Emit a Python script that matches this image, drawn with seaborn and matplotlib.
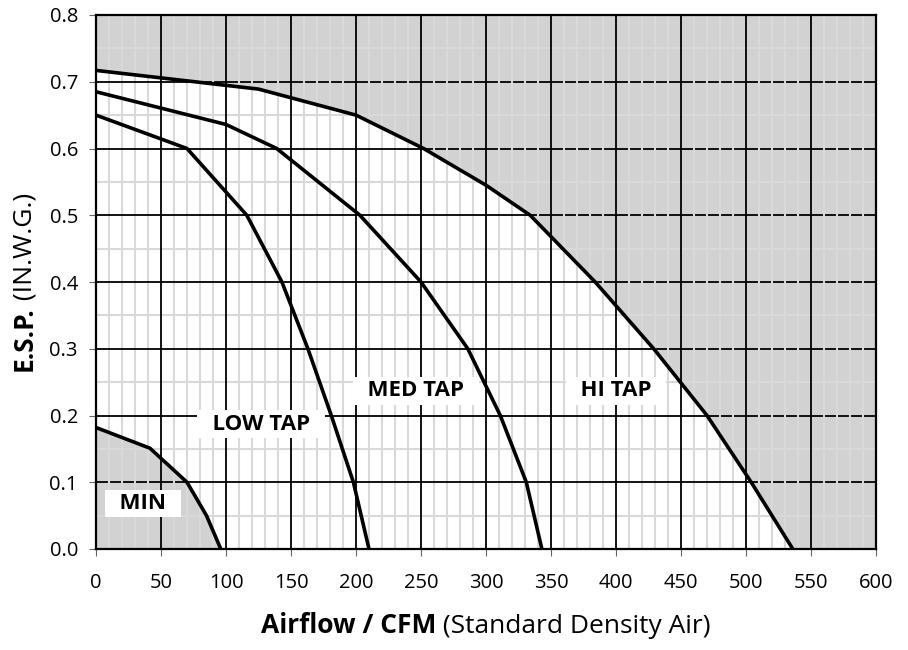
import numpy as np
import pandas as pd
import matplotlib
matplotlib.use('Agg')
import matplotlib.pyplot as plt
import seaborn as sns

# fan curves: airflow (CFM) vs external static pressure (in. w.g.)
min_cfm = [0, 41.5, 70, 85, 96]
min_esp = [0.182, 0.151, 0.10, 0.05, 0.0]
low_cfm = [0, 70, 116, 143, 163, 181, 198, 210]
low_esp = [0.65, 0.60, 0.50, 0.40, 0.30, 0.20, 0.10, 0.0]
med_cfm = [0, 100, 139, 203, 250, 286, 311, 331, 343]
med_esp = [0.685, 0.636, 0.60, 0.50, 0.40, 0.30, 0.20, 0.10, 0.0]
hi_cfm = [0, 125, 200, 252, 300, 334, 384, 429, 470, 504, 536]
hi_esp = [0.717, 0.689, 0.65, 0.60, 0.545, 0.50, 0.40, 0.30, 0.20, 0.10, 0.0]

curve_names = ['MIN', 'LOW TAP', 'MED TAP', 'HI TAP']
label_cfm = [36, 127, 246, 400]
label_esp = [0.068, 0.187, 0.237, 0.237]

x_ticks = list(range(0, 601, 50))
y_ticks = [0.0, 0.1, 0.2, 0.3, 0.4, 0.5, 0.6, 0.7, 0.8]
XMAX, YMAX = 600, 0.8

FILL = '#d2d2d2'
MINOR = '#d9d9d9'


def main():
    sns.set_style('white')
    plt.rcParams['font.family'] = ['Open Sans', 'DejaVu Sans']
    plt.rcParams['text.color'] = 'black'

    df = pd.concat([
        pd.DataFrame({'cfm': c, 'esp': e, 'curve': n})
        for c, e, n in zip([min_cfm, low_cfm, med_cfm, hi_cfm],
                           [min_esp, low_esp, med_esp, hi_esp], curve_names)
    ])

    fig = plt.figure(figsize=(9.08, 6.5), dpi=100)
    ax = fig.add_axes([96 / 908, 101 / 650, 780 / 908, 534 / 650])
    ax.set_xlim(0, XMAX)
    ax.set_ylim(0, YMAX)

    # shaded regions: above HI TAP and below MIN
    hi_fill = ax.fill_between(np.append(hi_cfm, XMAX), np.append(hi_esp, 0), YMAX,
                              color=FILL, lw=0, zorder=1)
    min_fill = ax.fill_between(min_cfm, 0, min_esp, color=FILL, lw=0, zorder=1)

    # grid
    minor_x = [v for v in range(0, XMAX + 1, 10) if v % 50]
    minor_y = [v / 100 for v in range(5, 80, 10)]
    ax.vlines(minor_x, 0, YMAX, color=MINOR, lw=1.5, zorder=1.2)
    ax.hlines(minor_y, 0, XMAX, color=MINOR, lw=1.5, zorder=1.2)
    ax.hlines(y_ticks[1:-1], 0, XMAX, color='black', lw=1.3, zorder=1.5)
    for poly in (hi_fill, min_fill):
        vl = ax.vlines(minor_x, 0, YMAX, color=MINOR, lw=1.5, zorder=1.7)
        vl.set_clip_path(poly.get_paths()[0], ax.transData)
    ax.vlines(x_ticks[1:-1], 0, YMAX, color='black', lw=1.3, zorder=1.8)

    sns.lineplot(data=df, x='cfm', y='esp', units='curve', estimator=None,
                 sort=False, color='black', lw=2.6, ax=ax, zorder=3)

    for name, cx, cy in zip(curve_names, label_cfm, label_esp):
        ax.text(cx, cy, '  ' + name + '  ', ha='center', va='center', fontsize=16,
                fontweight='bold', color='black', zorder=4,
                bbox=dict(boxstyle='square,pad=0.15', fc='white', ec='none'))

    ax.set_xticks(x_ticks)
    ax.set_yticks(y_ticks)
    ax.set_yticklabels([f'{v:.1f}' for v in y_ticks])
    ax.tick_params(axis='both', labelsize=14.5, length=5, width=0.8, color='#666666',
                   labelcolor='black', direction='out', bottom=True, left=True)
    ax.tick_params(axis='x', pad=12)
    ax.tick_params(axis='y', pad=8)
    ax.set_xlabel('')
    ax.set_ylabel('')
    for sp in ax.spines.values():
        sp.set_color('black')
        sp.set_linewidth(1.6)
        sp.set_zorder(5)

    # axis titles with bold + regular parts
    W, H = 908, 650
    fig.canvas.draw()
    r = fig.canvas.get_renderer()
    xa = fig.text(0, 0, 'Airflow / CFM', fontsize=19, fontweight='bold',
                  color='black', va='baseline')
    xb = fig.text(0, 0, ' (Standard Density Air)', fontsize=19, color='black',
                  va='baseline')
    w1 = xa.get_window_extent(r).width
    w2 = xb.get_window_extent(r).width
    x0 = 486 - (w1 + w2) / 2
    yb = (H - 633) / H
    xa.set_position((x0 / W, yb))
    xb.set_position(((x0 + w1) / W, yb))

    ya = fig.text(0, 0, 'E.S.P.', fontsize=19, fontweight='bold', rotation=90,
                  color='black', rotation_mode='anchor', ha='left', va='baseline')
    yb_ = fig.text(0, 0, ' (IN.W.G.)', fontsize=19, rotation=90, color='black',
                   rotation_mode='anchor', ha='left', va='baseline')
    h1 = ya.get_window_extent(r).height
    h2 = yb_.get_window_extent(r).height
    y0 = (H - 282) - (h1 + h2) / 2
    ya.set_position((32 / W, y0 / H))
    yb_.set_position((32 / W, (y0 + h1) / H))

    fig.savefig('out.png', dpi=100)
    plt.close(fig)


if __name__ == "__main__":
    main()
